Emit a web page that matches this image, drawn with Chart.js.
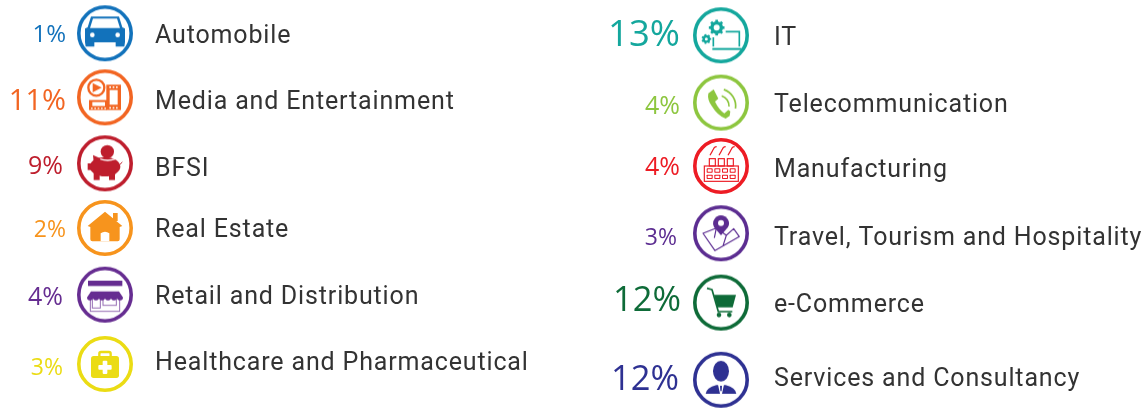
<!DOCTYPE html>
<html>
<head>
<meta charset="utf-8">
<style>
  html, body { margin: 0; padding: 0; background: #fff; }
  canvas { display: block; }
</style>
<script src="https://cdn.jsdelivr.net/npm/chart.js@4"></script>
</head>
<body>
<canvas id="sectors" width="1147" height="408"></canvas>
<script>
// values
const leftSectors = ["Automobile", "Media and Entertainment", "BFSI", "Real Estate", "Retail and Distribution", "Healthcare and Pharmaceutical"];
const leftShares = [1, 11, 9, 2, 4, 3];
const rightSectors = ["IT", "Telecommunication", "Manufacturing", "Travel, Tourism and Hospitality", "e-Commerce", "Services and Consultancy"];
const rightShares = [13, 4, 4, 3, 12, 12];

// layout, rows are not quite evenly spaced in the original
const leftRows = [0, 0.97, 1.97, 2.95, 3.96, 5.01];
const rightRows = [0.03, 1.05, 2.01, 3.03, 4.08, 5.25];
const leftPctEdge = [-39, -39, -42, -39, -42, -42];
const rightPctEdge = [-41, -41, -41, -44, -40, -42];
const leftPctDy = [2, 4, 4, 2, 3, 4];
const rightPctDy = [0, 4, 2, 5, -1, 0];
const leftNameDy = [2, 4, 5, 2, 2, -1];
const rightNameDy = [2, 2, 4, 4, 2, -1];
const leftColors = ["#1272bb", "#f26522", "#be1e2d", "#f7941d", "#662d91", "#ebdc14"];
const rightColors = ["#14a79d", "#8dc63f", "#ed1c24", "#5c2d91", "#0e6b38", "#2e3192"];
const pctFont = { 1: 24, 2: 23, 3: 23, 4: 25, 9: 25, 11: 29, 12: 34.5, 13: 36.5 };

function rr(c, x, y, w, h, r) {
  c.beginPath();
  c.roundRect(x, y, w, h, r);
}

// glyphs are sketched in 1/3 px units around the ring centre
const glyphs = {
  car(c, col) {
    c.beginPath();
    c.moveTo(-42, -50); c.lineTo(42, -50); c.lineTo(52, -18); c.lineTo(60, -14); c.lineTo(60, 26);
    c.lineTo(58, 40); c.lineTo(32, 40); c.lineTo(32, 27); c.lineTo(-32, 27); c.lineTo(-32, 40);
    c.lineTo(-58, 40); c.lineTo(-60, 26); c.lineTo(-60, -14); c.lineTo(-52, -18);
    c.closePath(); c.fill();
    c.fillStyle = "#fff";
    c.beginPath();
    c.moveTo(-36, -44); c.lineTo(36, -44); c.lineTo(45, -16); c.lineTo(-45, -16);
    c.closePath(); c.fill();
    c.beginPath(); c.arc(-38, 5, 7, 0, 7); c.arc(38, 5, 7, 0, 7); c.fill();
  },
  media(c, col) {
    c.lineWidth = 7;
    c.beginPath(); c.arc(-26, -29, 24, 0, 7); c.stroke();
    c.beginPath(); c.moveTo(-37, -43); c.lineTo(-10, -29); c.lineTo(-37, -15); c.closePath(); c.fill();
    c.fillRect(4, -38, 44, 76);
    c.fillRect(-48, 8, 54, 30);
    c.fillStyle = "#fff";
    c.fillRect(14, -22, 24, 44);
    c.fillRect(-38, 14, 38, 12);
    for (let i = 0; i < 5; i++) c.fillRect(-42 + i * 10, 31, 5, 4);
    for (let i = 0; i < 3; i++) c.fillRect(13 + i * 10, -33, 5, 5);
    for (let i = 0; i < 3; i++) c.fillRect(13 + i * 10, 29, 5, 5);
  },
  pig(c, col) {
    c.beginPath(); c.arc(7, -35, 20, 0, 7); c.fill();
    c.beginPath(); c.ellipse(0, 10, 46, 29, 0, 0, 7); c.fill();
    c.fillRect(-34, 25, 18, 25);
    c.fillRect(12, 25, 18, 25);
    c.beginPath(); c.moveTo(-34, -5); c.lineTo(-36, -25); c.lineTo(-14, -15); c.closePath(); c.fill();
    c.fillRect(-52, 0, 12, 20);
    c.lineWidth = 3;
    c.beginPath(); c.moveTo(42, 6); c.lineTo(52, -4); c.stroke();
    c.strokeStyle = "#fff"; c.lineWidth = 4;
    c.beginPath(); c.moveTo(-14, -13); c.quadraticCurveTo(8, -5, 30, -13); c.stroke();
  },
  house(c, col) {
    c.fillRect(24, -45, 14, 24);
    c.beginPath();
    c.moveTo(0, -49); c.lineTo(52, -6); c.lineTo(44, -3); c.lineTo(44, 34);
    c.quadraticCurveTo(44, 40, 38, 40); c.lineTo(-38, 40); c.quadraticCurveTo(-44, 40, -44, 34);
    c.lineTo(-44, -3); c.lineTo(-52, -6); c.closePath(); c.fill();
    c.fillStyle = "#fff";
    c.beginPath();
    c.moveTo(-13, 40); c.lineTo(-13, 16); c.quadraticCurveTo(0, 6, 13, 16); c.lineTo(13, 40);
    c.closePath(); c.fill();
  },
  store(c, col) {
    c.fillRect(-51, -42, 103, 16);
    c.beginPath();
    c.moveTo(-42, -10); c.lineTo(42, -10); c.lineTo(54, 8);
    for (let i = 0; i < 6; i++) c.arc(45 - i * 18, 8, 9, 0, Math.PI);
    c.closePath(); c.fill();
    c.globalAlpha = 0.7;
    c.lineWidth = 3;
    c.strokeRect(-44, 10, 88, 40);
    c.strokeRect(-38, 10, 24, 30);
    c.strokeRect(-6, 10, 40, 22);
    c.globalAlpha = 1;
  },
  kit(c, col) {
    c.lineWidth = 7;
    rr(c, -17, -36, 34, 20, 5); c.stroke();
    rr(c, -42, -24, 84, 66, 8); c.fill();
    c.fillStyle = "#fff";
    rr(c, -7, -10, 14, 40, 3); c.fill();
    rr(c, -20, 3, 40, 14, 3); c.fill();
  },
  gears(c, col) {
    const gear = (x, y, r, t, n) => {
      c.lineWidth = t;
      c.beginPath(); c.arc(x, y, r, 0, 7); c.stroke();
      c.lineWidth = t * 0.8;
      for (let i = 0; i < n; i++) {
        const a = i / n * Math.PI * 2;
        c.beginPath();
        c.moveTo(x + Math.cos(a) * r, y + Math.sin(a) * r);
        c.lineTo(x + Math.cos(a) * (r + t * 0.95), y + Math.sin(a) * (r + t * 0.95));
        c.stroke();
      }
    };
    gear(-13, -23, 14, 10, 8);
    gear(-44, 11, 8, 7, 7);
    c.lineWidth = 5;
    c.beginPath();
    c.moveTo(14, -11); c.lineTo(55, -11); c.lineTo(55, 34);
    c.moveTo(-23, 6); c.lineTo(-23, 34);
    c.stroke();
    c.fillRect(-26, 38, 88, 6);
  },
  phone(c, col) {
    c.beginPath();
    c.moveTo(-38, -28); c.lineTo(-22, -40); c.lineTo(-8, -12); c.lineTo(-18, -3);
    c.quadraticCurveTo(-6, 22, 10, 32); c.lineTo(22, 22); c.lineTo(28, 26); c.lineTo(26, 40);
    c.lineTo(14, 48);
    c.quadraticCurveTo(-10, 40, -28, 10); c.quadraticCurveTo(-42, -10, -38, -28);
    c.closePath(); c.fill();
    c.lineWidth = 5;
    c.beginPath(); c.arc(-8, 10, 32, -1.25, 0.05); c.stroke();
    c.beginPath(); c.arc(-8, 10, 52, -1.25, 0.15); c.stroke();
  },
  factory(c, col) {
    c.lineWidth = 3.5;
    for (const x of [-27, 0, 27]) {
      c.strokeRect(x - 8, -22, 18, 22);
      c.beginPath();
      c.moveTo(x - 6, -32);
      c.bezierCurveTo(x - 2, -40, x + 2, -46, x + 4, -50);
      c.bezierCurveTo(x + 6, -56, x + 10, -58, x + 14, -58);
      c.stroke();
    }
    c.strokeRect(-50, 0, 102, 46);
    for (let row = 0; row < 2; row++) {
      for (let i = 0; i < 4; i++) {
        rr(c, -43 + i * 23, 7 + row * 19, 18, 13, 2); c.fill();
      }
    }
    c.fillStyle = "#fff";
    for (let row = 0; row < 2; row++) {
      for (let i = 0; i < 4; i++) {
        rr(c, -40 + i * 23, 10 + row * 19, 12, 7, 1); c.fill();
      }
    }
  },
  map(c, col) {
    c.lineWidth = 3.5;
    c.lineJoin = "round";
    c.beginPath();
    c.moveTo(-54, 0); c.lineTo(-14, -16); c.lineTo(16, 6); c.lineTo(38, -14); c.lineTo(55, 10);
    c.lineTo(-18, 52); c.closePath();
    c.moveTo(-20, 14); c.lineTo(-14, -16);
    c.moveTo(16, 6); c.lineTo(6, 38);
    c.stroke();
    c.beginPath();
    c.arc(0, -30, 24, 2.6, 0.54);
    c.lineTo(0, 6);
    c.closePath(); c.fill();
    c.fillStyle = "#fff";
    c.beginPath(); c.arc(0, -31, 9, 0, 7); c.fill();
  },
  cart(c, col) {
    c.lineWidth = 5;
    c.lineJoin = "round";
    c.beginPath();
    c.moveTo(-42, -43); c.lineTo(-27, -39); c.lineTo(-8, 27); c.lineTo(34, 27);
    c.stroke();
    c.beginPath();
    c.moveTo(-21, -23); c.lineTo(45, -23); c.lineTo(35, 14); c.lineTo(-11, 14);
    c.closePath(); c.fill();
    c.beginPath(); c.arc(-6, 37, 7, 0, 7); c.arc(25, 37, 7, 0, 7); c.fill();
  },
  person(c, col) {
    c.beginPath(); c.ellipse(0, -26, 24, 31, 0, 0, 7); c.fill();
    c.beginPath();
    c.moveTo(-46, 42); c.quadraticCurveTo(-44, 24, -14, 16); c.lineTo(14, 16);
    c.quadraticCurveTo(44, 24, 46, 42); c.closePath(); c.fill();
    c.fillStyle = "#fff";
    c.beginPath(); c.moveTo(-9, 14); c.lineTo(9, 14); c.lineTo(3, 42); c.lineTo(-3, 42); c.closePath(); c.fill();
    c.fillStyle = col;
    c.beginPath(); c.moveTo(-3, 18); c.lineTo(3, 18); c.lineTo(2, 34); c.lineTo(-2, 34); c.closePath(); c.fill();
  }
};

const leftGlyphs = ["car", "media", "pig", "house", "store", "kit"];
const rightGlyphs = ["gears", "phone", "factory", "map", "cart", "person"];

function makeIcon(name, col) {
  const cv = document.createElement("canvas");
  cv.width = 60;
  cv.height = 60;
  const c = cv.getContext("2d");
  c.strokeStyle = col;
  c.fillStyle = col;
  c.lineWidth = 3.6;
  c.beginPath();
  c.arc(30, 30, 26.2, 0, Math.PI * 2);
  c.stroke();
  c.translate(30, 30);
  c.scale(1 / 3, 1 / 3);
  glyphs[name](c, col);
  return cv;
}

function column(col, rows, sectors, shares, colors, icons, pctEdge, pctDy, nameDy, nameX) {
  return {
    data: sectors.map((s, i) => ({ x: col, y: rows[i] })),
    pointStyle: icons.map((g, i) => makeIcon(g, colors[i])),
    pointRadius: 30,
    pointBorderWidth: 0,
    clip: false,
    sectorLabels: { sectors, shares, colors, pctEdge, pctDy, nameDy, nameX }
  };
}

const rowLabels = {
  id: "rowLabels",
  afterDatasetsDraw(chart) {
    const ctx = chart.ctx;
    chart.data.datasets.forEach((ds, d) => {
      const o = ds.sectorLabels;
      chart.getDatasetMeta(d).data.forEach((pt, i) => {
        const share = o.shares[i];
        ctx.save();
        ctx.textBaseline = "middle";
        ctx.textAlign = "right";
        ctx.fillStyle = o.colors[i];
        ctx.font = `400 ${pctFont[share]}px "Open Sans", sans-serif`;
        ctx.fillText(share + "%", pt.x + o.pctEdge[i], pt.y + o.pctDy[i]);
        ctx.textAlign = "left";
        ctx.fillStyle = "#333333";
        ctx.font = '400 25px Roboto, sans-serif';
        ctx.letterSpacing = "0.85px";
        ctx.fillText(o.sectors[i], pt.x + o.nameX, pt.y + o.nameDy[i] + 1);
        ctx.restore();
      });
    });
  }
};

new Chart(document.getElementById("sectors").getContext("2d"), {
  type: "scatter",
  data: {
    datasets: [
      column(0, leftRows, leftSectors, leftShares, leftColors, leftGlyphs, leftPctEdge, leftPctDy, leftNameDy, 50),
      column(1, rightRows, rightSectors, rightShares, rightColors, rightGlyphs, rightPctEdge, rightPctDy, rightNameDy, 53)
    ]
  },
  options: {
    responsive: false,
    animation: false,
    layout: { padding: 0 },
    plugins: { legend: { display: false }, tooltip: { enabled: false } },
    scales: {
      // the point radius insets the chart area by 30px on every side
      x: { display: false, min: -0.12175, max: 1.6429 },
      y: { display: false, reverse: true, min: -0.05, max: 5.2227 }
    }
  },
  plugins: [rowLabels]
});
</script>
</body>
</html>
